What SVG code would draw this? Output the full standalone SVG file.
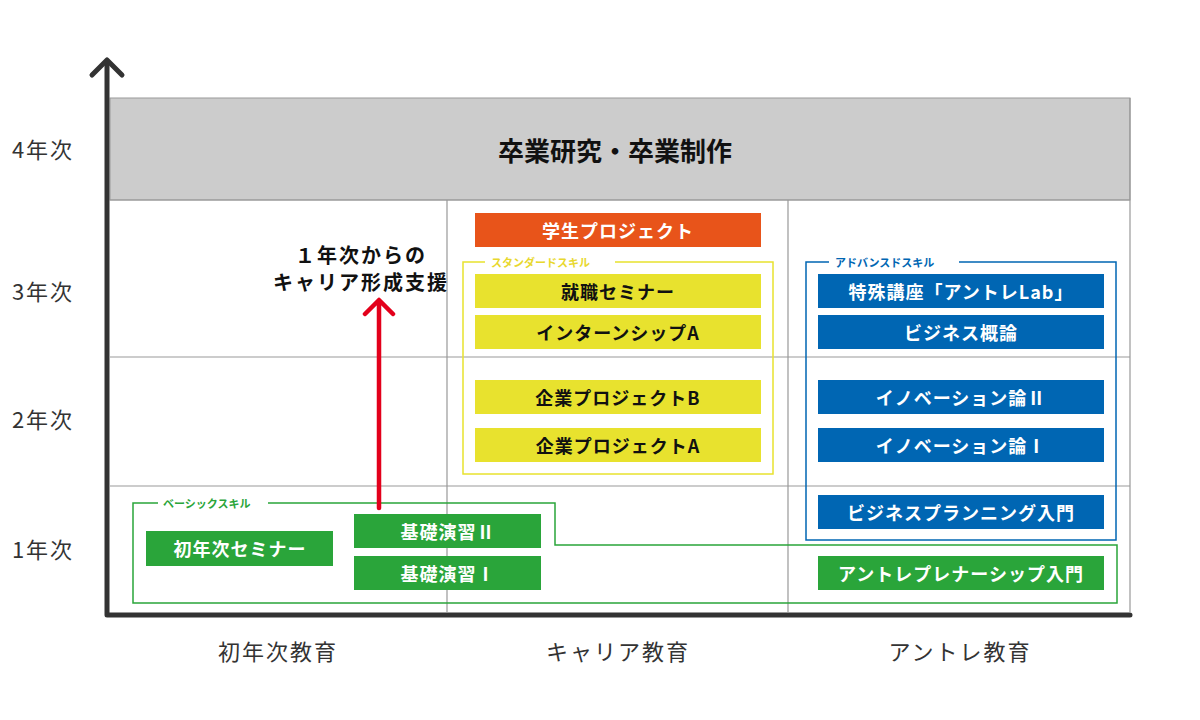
<svg xmlns="http://www.w3.org/2000/svg" width="1200" height="720" viewBox="0 0 1200 720">
<style>
text{font-family:"Noto Sans CJK JP","Noto Sans",sans-serif;text-anchor:middle;dominant-baseline:central}
.ax{font-size:22px;fill:#333;letter-spacing:2px}
.nt{font-size:18px;font-weight:bold;fill:#fff;letter-spacing:1px}
.dk{fill:#111}
.sm{font-size:11px;font-weight:bold;text-anchor:start}
.g{stroke:#999;stroke-width:1.2;fill:none}
</style>
<rect width="1200" height="720" fill="#fff"/>
<g id="grid">
<rect x="110" y="98" width="1020" height="102" fill="#cccccc" stroke="#999"/>
<text x="615" y="149" style="font-size:26px;font-weight:bold;fill:#111">卒業研究・卒業制作</text>
<path class="g" d="M110 200H1130M110 357H1130M110 486H1130M447 200V612M788 200V612M1130 98V612"/>
</g>
<g id="axes" fill="none" stroke="#333" stroke-width="5" stroke-linecap="round" stroke-linejoin="round">
<path d="M107 63V615H1130"/>
<path d="M92 75L107 60L122 75"/>
</g>
<g id="labels">
<text class="ax" x="43" y="148">4年次</text>
<text class="ax" x="43" y="290">3年次</text>
<text class="ax" x="43" y="418">2年次</text>
<text class="ax" x="43" y="548">1年次</text>
<text class="ax" x="278" y="650">初年次教育</text>
<text class="ax" x="618" y="650">キャリア教育</text>
<text class="ax" x="960" y="650">アントレ教育</text>
</g>
<g id="groups" fill="none" stroke-width="1.5">
<path d="M133 503H555V545H1117V603H133Z" stroke="#2aa53a"/>
<rect x="463" y="262" width="310" height="212" stroke="#e8e22e"/>
<rect x="806" y="262" width="310" height="278" stroke="#0066b3"/>
<rect x="158" y="496" width="110" height="14" fill="#fff" stroke="none"/>
<rect x="485" y="255" width="130" height="14" fill="#fff" stroke="none"/>
<rect x="829" y="255" width="130" height="14" fill="#fff" stroke="none"/>
<text class="sm" x="163" y="503" fill="#2aa53a" stroke="none">ベーシックスキル</text>
<text class="sm" x="491" y="262" fill="#e8d82e" stroke="none">スタンダードスキル</text>
<text class="sm" x="835" y="262" fill="#0066b3" stroke="none">アドバンスドスキル</text>
</g>
<g id="connectors">
<path d="M379 508V302M365 314L379 300L393 314" fill="none" stroke="#e3001b" stroke-width="4.5" stroke-linecap="round" stroke-linejoin="round"/>
</g>
<g id="caption">
<text x="361" y="254" style="font-size:20px;font-weight:bold;fill:#111;letter-spacing:2px">１年次からの</text>
<text x="361" y="281" style="font-size:20px;font-weight:bold;fill:#111;letter-spacing:2px">キャリア形成支援</text>
</g>
<g id="n1"><rect x="475" y="213" width="286" height="34" fill="#e8541a"/><text class="nt" x="618" y="230">学生プロジェクト</text></g>
<g id="n2"><rect x="475" y="274" width="286" height="34" fill="#e8e22e"/><text class="nt dk" x="618" y="291">就職セミナー</text></g>
<g id="n3"><rect x="475" y="315" width="286" height="34" fill="#e8e22e"/><text class="nt dk" x="618" y="332">インターンシップA</text></g>
<g id="n4"><rect x="475" y="380" width="286" height="34" fill="#e8e22e"/><text class="nt dk" x="618" y="397">企業プロジェクトB</text></g>
<g id="n5"><rect x="475" y="428" width="286" height="34" fill="#e8e22e"/><text class="nt dk" x="618" y="445">企業プロジェクトA</text></g>
<g id="n6"><rect x="818" y="274" width="286" height="34" fill="#0066b3"/><text class="nt" x="961" y="291">特殊講座「アントレLab」</text></g>
<g id="n7"><rect x="818" y="315" width="286" height="34" fill="#0066b3"/><text class="nt" x="961" y="332">ビジネス概論</text></g>
<g id="n8"><rect x="818" y="380" width="286" height="34" fill="#0066b3"/><text class="nt" x="961" y="397">イノベーション論Ⅱ</text></g>
<g id="n9"><rect x="818" y="428" width="286" height="34" fill="#0066b3"/><text class="nt" x="961" y="445">イノベーション論Ⅰ</text></g>
<g id="n10"><rect x="818" y="495" width="286" height="34" fill="#0066b3"/><text class="nt" x="961" y="512">ビジネスプランニング入門</text></g>
<g id="n11"><rect x="818" y="556" width="286" height="34" fill="#2aa53a"/><text class="nt" x="961" y="573">アントレプレナーシップ入門</text></g>
<g id="n12"><rect x="146" y="531" width="187" height="35" fill="#2aa53a"/><text class="nt" x="240" y="548">初年次セミナー</text></g>
<g id="n13"><rect x="354" y="514" width="187" height="34" fill="#2aa53a"/><text class="nt" x="448" y="531">基礎演習Ⅱ</text></g>
<g id="n14"><rect x="354" y="556" width="187" height="34" fill="#2aa53a"/><text class="nt" x="448" y="573">基礎演習Ⅰ</text></g>
</svg>
